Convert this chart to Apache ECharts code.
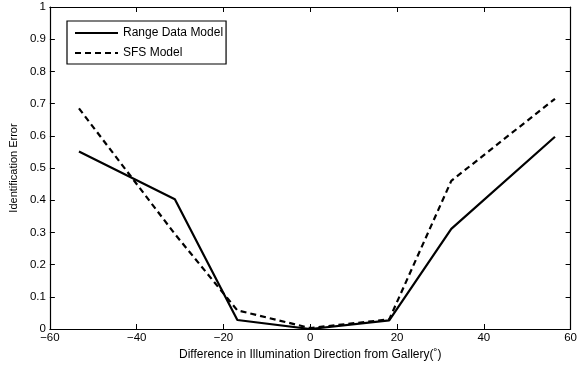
<!DOCTYPE html>
<html><head><meta charset="utf-8">
<script src="https://cdn.jsdelivr.net/npm/echarts@6/dist/echarts.min.js"></script>
<style>html,body{margin:0;padding:0;background:#fff}#c{width:580px;height:370px}</style>
</head><body><div id="c"></div>
<script>
const xValues = [-53.3, -31.2, -16.8, 0, 18.2, 32.5, 56.4];
const rangeModel = [0.551, 0.403, 0.028, 0.0, 0.027, 0.311, 0.597];
const sfsModel = [0.685, 0.295, 0.058, 0.003, 0.03, 0.46, 0.715];
const seriesNames = ['Range Data Model', 'SFS Model'];
const xTitle = 'Difference in Illumination Direction from Gallery(˚)';
const yTitle = 'Identification Error';

const font = 'Liberation Sans, Arial, Helvetica, sans-serif';
const chart = echarts.init(document.getElementById('c'));
const pair = a => xValues.map((x, i) => [x, a[i]]);
const xBase = {type:'value', min:-60, max:60, interval:20,
  axisLine:{show:true, onZero:false, lineStyle:{color:'#000', width:1.2}},
  axisTick:{show:true, inside:true, length:5, lineStyle:{color:'#000'}},
  splitLine:{show:false}};
const yBase = {type:'value', min:0, max:1, interval:0.1,
  axisLine:{show:true, onZero:false, lineStyle:{color:'#000', width:1.2}},
  axisTick:{show:true, inside:true, length:5, lineStyle:{color:'#000'}},
  splitLine:{show:false}};
chart.setOption({
  animation:false,
  backgroundColor:'#fff',
  grid:{left:44, right:8, top:7, bottom:41},
  xAxis:[
    Object.assign({}, xBase, {position:'bottom',
      name:xTitle, nameLocation:'middle', nameGap:20,
      nameTextStyle:{color:'#000', fontSize:12, fontFamily:font},
      axisLabel:{color:'#000', fontSize:11.5, fontFamily:font, margin:3,
        formatter:v => String(v).replace('-', '\u2212')}}),
    Object.assign({}, xBase, {position:'top', axisLabel:{show:false}})
  ],
  yAxis:[
    Object.assign({}, yBase, {position:'left',
      name:yTitle, nameLocation:'middle', nameGap:28,
      nameTextStyle:{color:'#000', fontSize:11, fontFamily:font},
      axisLabel:{color:'#000', fontSize:11.5, fontFamily:font, margin:4,
        formatter:v => String(Math.round(v*10)/10)}}),
    Object.assign({}, yBase, {position:'right', axisLabel:{show:false}})
  ],
  legend:{left:67, top:21, orient:'vertical', itemWidth:43, itemHeight:12, itemGap:8,
    padding:[6,3,5,7], backgroundColor:'#fff', borderColor:'#000', borderWidth:1.2, borderRadius:0,
    textStyle:{color:'#000', fontSize:12, fontFamily:font},
    itemStyle:{color:'rgba(0,0,0,0)', borderWidth:0},
    data:seriesNames},
  series:[
    {name:seriesNames[0], type:'line', data:pair(rangeModel), symbol:'none',
      lineStyle:{color:'#000', width:2.2, type:'solid'}, itemStyle:{color:'#000'}},
    {name:seriesNames[1], type:'line', data:pair(sfsModel), symbol:'none',
      lineStyle:{color:'#000', width:2.2, type:[6,4]}, itemStyle:{color:'#000'}}
  ]
});
</script></body></html>
